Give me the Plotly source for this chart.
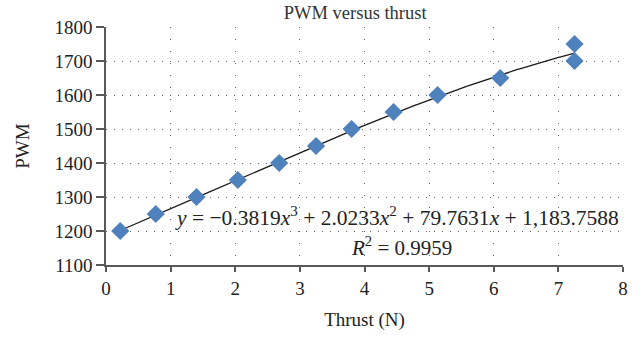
import numpy as np
import plotly.graph_objects as go

# Measured thrust (N) and the PWM command that produced it
thrust = [0.22, 0.77, 1.40, 2.04, 2.68, 3.25, 3.80, 4.45, 5.13, 6.10, 7.25, 7.25]
pwm = [1200, 1250, 1300, 1350, 1400, 1450, 1500, 1550, 1600, 1650, 1700, 1750]

# Cubic trendline coefficients (highest power first) and fit quality
coeffs = [-0.3819, 2.0233, 79.7631, 1183.7588]
r_squared = 0.9959

x_ticks = [0, 1, 2, 3, 4, 5, 6, 7, 8]
y_ticks = [1100, 1200, 1300, 1400, 1500, 1600, 1700, 1800]

xs = np.linspace(min(thrust), max(thrust), 200)
ys = np.polyval(coeffs, xs)

FONT = "Liberation Serif"
AXIS_COLOR = "#595959"
TEXT_COLOR = "#222"

fig = go.Figure()
fig.add_trace(go.Scatter(
    x=xs, y=ys, mode="lines",
    line=dict(color="#1a1a1a", width=1.3),
    hoverinfo="skip", showlegend=False,
))
fig.add_trace(go.Scatter(
    x=thrust, y=pwm, mode="markers",
    marker=dict(symbol="diamond", size=14, color="#4F81BD",
                line=dict(width=0)),
    showlegend=False,
))

sp = "\u00a0"
eq = (f"<i>y</i>{sp}={sp}\u22120.3819<i>x</i><sup>3</sup>{sp}+{sp}2.0233<i>x</i><sup>2</sup>"
      f"{sp}+{sp}79.7631<i>x</i>{sp}+{sp}1,183.7588")
fig.add_annotation(x=4.51, y=1243, text=eq, showarrow=False,
                   font=dict(family=FONT, size=21.5, color=TEXT_COLOR))
fig.add_annotation(x=4.58, y=1153,
                   text=f"<i>R</i><sup>2</sup>{sp}={sp}{r_squared:.4f}",
                   showarrow=False,
                   font=dict(family=FONT, size=21, color=TEXT_COLOR))

fig.update_layout(
    width=640, height=339,
    margin=dict(l=106, r=15, t=27, b=72),
    paper_bgcolor="white", plot_bgcolor="white",
    font=dict(family=FONT, size=19, color=TEXT_COLOR),
    title=dict(text="PWM versus thrust", x=0.555, xanchor="center",
               y=0.962, yanchor="middle",
               font=dict(family=FONT, size=18.5, color="#333")),
)
fig.update_xaxes(
    range=[0, 8], tickvals=x_ticks, ticktext=[str(v) for v in x_ticks],
    showline=True, linecolor=AXIS_COLOR, linewidth=1.5,
    ticks="outside", ticklen=5, tickcolor=AXIS_COLOR, tickwidth=1.5,
    showgrid=True, gridcolor="#666", gridwidth=1, griddash="1px,11px",
    zeroline=False,
    title=dict(text="Thrust (N)", standoff=15,
               font=dict(family=FONT, size=19, color=TEXT_COLOR)),
    tickfont=dict(family=FONT, size=19, color=TEXT_COLOR),
)
fig.update_yaxes(
    range=[1100, 1800], tickvals=y_ticks,
    showline=True, linecolor=AXIS_COLOR, linewidth=1.5,
    ticks="outside", ticklen=8, tickcolor=AXIS_COLOR, tickwidth=1.5,
    showgrid=True, gridcolor="#666", gridwidth=1, griddash="1px,7px",
    zeroline=False,
    title=dict(text="PWM", standoff=20,
               font=dict(family=FONT, size=19, color=TEXT_COLOR)),
    tickfont=dict(family=FONT, size=19, color=TEXT_COLOR),
)

fig.write_html("out.html")
